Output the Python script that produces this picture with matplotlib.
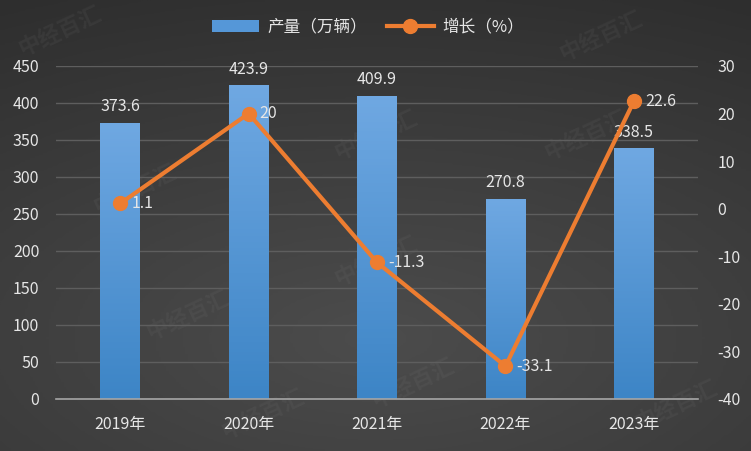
import matplotlib.pyplot as plt
import numpy as np
from matplotlib.colors import LinearSegmentedColormap
from matplotlib.lines import Line2D
from matplotlib.patches import Patch

plt.rcParams['font.family'] = ['Noto Sans CJK SC', 'DejaVu Sans']
plt.rcParams['axes.unicode_minus'] = False

years = ['2019年', '2020年', '2021年', '2022年', '2023年']
output = [373.6, 423.9, 409.9, 270.8, 338.5]
growth = [1.1, 20, -11.3, -33.1, 22.6]
growth_labels = ['1.1', '20', '-11.3', '-33.1', '22.6']

txt = '#e6e6e6'
orange = '#ed7d31'

fig = plt.figure(figsize=(7.51, 4.51), dpi=100)

# background gradient
bg = fig.add_axes([0, 0, 1, 1], zorder=-10)
yy, xx = np.mgrid[0:1:200j, 0:1:300j]
r = np.sqrt((xx - 0.5) ** 2 * 0.6 + (yy - 0.25) ** 2)
bg.imshow(r, cmap=LinearSegmentedColormap.from_list('bg', ['#4c4c4c', '#2e2e2e']),
          aspect='auto', extent=[0, 1, 0, 1], origin='lower')
bg.axis('off')

# faint watermarks
for wx, wy in [(0.08, 0.93), (0.8, 0.92), (0.5, 0.7), (0.78, 0.7), (0.18, 0.58),
               (0.5, 0.42), (0.25, 0.3), (0.55, 0.15), (0.9, 0.1), (0.35, 0.08)]:
    bg.text(wx, wy, '中经百汇', transform=bg.transAxes, rotation=25, fontsize=16,
            color='#888888', alpha=0.1, ha='center', va='center', fontweight='bold')

ax = fig.add_axes([0.0746, 0.1153, 0.855, 0.7384])
ax.patch.set_alpha(0)
x = np.arange(len(years))
bars = ax.bar(x, output, width=0.31, color='#5597d8', zorder=2)
grad = LinearSegmentedColormap.from_list('bar', ['#3d85c6', '#6fa8e2'])
for b in bars:
    bx, by = b.get_x(), b.get_y()
    im = ax.imshow(np.linspace(0, 1, 100).reshape(-1, 1), cmap=grad, origin='lower',
                   extent=[bx, bx + b.get_width(), by, by + b.get_height()],
                   aspect='auto', zorder=2.1)
    im.set_clip_path(b)
for xi, v in zip(x, output):
    ax.text(xi, v + 22, f'{v}', ha='center', va='center', color=txt, fontsize=11.5, zorder=5)

ax.set_xlim(-0.5, 4.5)
ax.set_ylim(0, 450)
ax.set_yticks(np.arange(0, 451, 50))
ax.set_xticks(x)
ax.set_xticklabels(years)
ax.grid(axis='y', color='#5e5e5e', linewidth=1, zorder=0)
for s in ['top', 'right', 'left']:
    ax.spines[s].set_visible(False)
ax.spines['bottom'].set_color('#a6a6a6')
ax.spines['bottom'].set_linewidth(1.2)
ax.tick_params(axis='both', length=0, colors=txt, labelsize=11.5)
ax.tick_params(axis='x', pad=12)
ax.tick_params(axis='y', pad=12)

ax2 = ax.twinx()
ax2.set_ylim(-40, 30)
ax2.set_yticks(np.arange(-40, 31, 10))
ax2.plot(x, growth, color=orange, linewidth=3, marker='o', markersize=10, zorder=4)
for xi, v, lab in zip(x, growth, growth_labels):
    ax2.annotate(lab, (xi, v), xytext=(8, 0), textcoords='offset points',
                 ha='left', va='center', color=txt, fontsize=11.5, zorder=6)
for s in ['top', 'right', 'left', 'bottom']:
    ax2.spines[s].set_visible(False)
ax2.tick_params(axis='y', length=0, colors=txt, labelsize=11.5, pad=14)

handles = [Patch(facecolor='#5597d8', edgecolor='none'),
           Line2D([0], [0], color=orange, linewidth=3, marker='o', markersize=10)]
fig.legend(handles, ['产量（万辆）', '增长（%）'], loc='center', bbox_to_anchor=(0.49, 0.94),
           ncol=2, frameon=False, fontsize=12, labelcolor=txt, handlelength=2.8,
           columnspacing=1.2, handletextpad=0.5)

plt.savefig('out.png', dpi=100)
